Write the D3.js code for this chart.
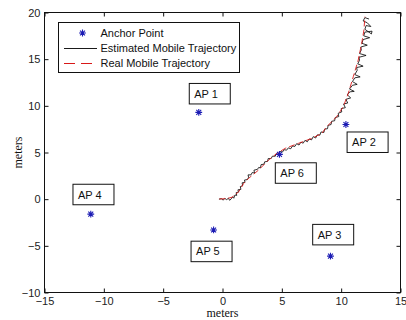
<!DOCTYPE html>
<html>
<head>
<meta charset="utf-8">
<script src="https://cdn.jsdelivr.net/npm/d3@7"></script>
<style>
  body { margin: 0; background: #fff; }
  svg { display: block; }
  .tick text { font-family: 'Liberation Sans', Arial, sans-serif; font-size: 11px; fill: #222; }
  .lbl { font-family: 'Liberation Sans', Arial, sans-serif; font-size: 11px; fill: #111; }
  .axis-label { font-family: 'Liberation Serif', 'Times New Roman', serif; font-size: 12px; fill: #111; }
</style>
</head>
<body>
<div id="chart"></div>
<script>
// anchor points
const anchorNames = ['AP 1', 'AP 2', 'AP 3', 'AP 4', 'AP 5', 'AP 6']
const anchorX = [-2.0, 10.4, 9.1, -11.1, -0.75, 4.8]
const anchorY = [9.3, 8.0, -6.1, -1.6, -3.3, 4.8]
// text box anchors (left edge, vertical middle) in data units
const labelX = [-2.8, 10.5, 7.6, -12.6, -2.65, 4.45]
const labelY = [11.3, 6.1, -3.8, 0.5, -5.6, 2.8]

// real mobile trajectory
const realX = [-0.27, 0.3, 0.8, 1.37, 1.79, 2.21, 3.05, 3.89, 4.59, 5.29, 6.42, 7.54, 8.38, 8.78, 9.62, 10.18, 10.6, 11.02, 11.44, 11.73, 11.92, 12.0]
const realY = [0.02, 0.05, 0.2, 0.8, 1.7, 2.24, 3.13, 4.2, 4.91, 5.45, 5.99, 6.52, 7.06, 7.76, 8.84, 9.91, 11.34, 13.12, 14.91, 16.7, 18.13, 19.55]

// estimated mobile trajectory
const estimated = [
  [-0.3, 0.0], [-0.1, 0.05], [0.05, -0.1], [0.2, 0.08], [0.35, -0.05], [0.5, 0.1], [0.6, -0.12],
  [0.75, 0.05], [0.85, 0.25], [0.95, 0.1], [1.05, 0.45], [1.2, 0.4], [1.15, 0.7], [1.35, 0.75],
  [1.3, 1.0], [1.55, 1.05], [1.5, 1.35], [1.7, 1.45], [1.65, 1.75], [1.9, 1.8], [1.85, 2.05],
  [2.1, 2.1], [2.2, 2.35], [2.15, 2.6], [2.4, 2.6], [2.5, 2.85], [2.7, 2.8], [2.65, 3.1],
  [2.95, 3.2], [3.05, 3.4], [3.2, 3.35], [3.25, 3.7], [3.5, 3.75], [3.55, 4.0], [3.8, 4.05],
  [3.85, 4.35], [4.1, 4.35], [4.2, 4.6], [4.45, 4.6], [4.5, 4.85], [4.7, 4.8], [4.85, 5.1],
  [5.05, 5.05], [5.2, 5.3], [5.4, 5.25], [5.55, 5.5], [5.75, 5.4], [5.9, 5.7], [6.1, 5.65],
  [6.25, 5.95], [6.45, 5.8], [6.6, 6.1], [6.8, 6.0], [6.95, 6.3], [7.15, 6.15], [7.3, 6.45],
  [7.5, 6.35], [7.65, 6.7], [7.85, 6.55], [8.0, 6.9], [8.2, 6.85], [8.3, 7.2], [8.55, 7.15],
  [8.6, 7.5], [8.85, 7.55], [8.9, 7.9], [9.15, 8.0], [9.2, 8.35], [9.45, 8.4], [9.5, 8.75],
  [9.8, 8.85], [9.75, 9.2], [10.05, 9.35], [10.0, 9.7], [10.35, 9.8], [10.2, 10.2], [10.55, 10.3],
  [10.4, 10.7], [10.8, 10.85], [10.5, 11.2], [10.75, 11.5], [11.1, 11.55], [10.7, 11.8],
  [10.95, 12.2], [11.35, 12.3], [10.95, 12.6], [11.15, 13.0], [11.6, 13.1], [11.15, 13.35],
  [11.35, 13.8], [11.3, 14.1], [11.85, 14.25], [11.4, 14.5], [11.55, 14.9], [11.5, 15.2],
  [12.1, 15.4], [11.55, 15.6], [11.7, 16.0], [11.65, 16.3], [12.2, 16.5], [11.75, 16.7],
  [11.85, 17.1], [12.4, 17.3], [11.9, 17.5], [12.0, 17.9], [12.6, 18.0], [12.55, 17.7],
  [12.0, 18.2], [12.1, 18.6], [12.5, 18.5], [12.2, 18.9], [11.85, 19.1], [12.0, 19.45], [12.35, 19.3]
]

const xTicks = [-15, -10, -5, 0, 5, 10, 15]
const yTicks = [-10, -5, 0, 5, 10, 15, 20]

const W = 406
const H = 320
const margin = { top: 12.5, right: 5.5, bottom: 27.5, left: 44.5 }
const starColor = '#1c1cb4'
const realColor = '#d81818'

const svg = d3.select('#chart').append('svg').attr('width', W).attr('height', H)

const x = d3.scaleLinear().domain([-15, 15]).range([margin.left, W - margin.right])
const y = d3.scaleLinear().domain([-10, 20]).range([H - margin.bottom, margin.top])

// axes with inward ticks on all four sides
svg.append('g')
  .attr('transform', `translate(0, ${y(-10)})`)
  .call(d3.axisBottom(x).tickValues(xTicks).tickSize(-4).tickSizeOuter(0).tickPadding(5))
svg.append('g')
  .attr('transform', `translate(${x(-15)}, 0)`)
  .call(d3.axisLeft(y).tickValues(yTicks).tickSize(-4).tickSizeOuter(0).tickPadding(4))
svg.append('g')
  .attr('transform', `translate(0, ${y(20)})`)
  .call(d3.axisTop(x).tickValues(xTicks).tickSize(-4).tickSizeOuter(0).tickFormat(''))
svg.append('g')
  .attr('transform', `translate(${x(15)}, 0)`)
  .call(d3.axisRight(y).tickValues(yTicks).tickSize(-4).tickSizeOuter(0).tickFormat(''))

svg.selectAll('.domain').remove()
svg.selectAll('.tick line').attr('stroke', '#111')

svg.append('rect')
  .attr('x', x(-15)).attr('y', y(20))
  .attr('width', x(15) - x(-15)).attr('height', y(-10) - y(20))
  .attr('fill', 'none').attr('stroke', '#111').attr('stroke-width', 1)

// axis labels
svg.append('text')
  .attr('class', 'axis-label')
  .attr('x', (x(-15) + x(15)) / 2)
  .attr('y', 317)
  .attr('text-anchor', 'middle')
  .text('meters')

svg.append('text')
  .attr('class', 'axis-label')
  .attr('transform', `translate(22, ${(y(-10) + y(20)) / 2}) rotate(-90)`)
  .attr('text-anchor', 'middle')
  .text('meters')

// trajectories
const plot = svg.append('g')

plot.append('path')
  .datum(estimated)
  .attr('fill', 'none')
  .attr('stroke', '#000')
  .attr('stroke-width', 0.8)
  .attr('d', d3.line().x((d) => x(d[0])).y((d) => y(d[1])))

plot.append('path')
  .datum(realX.map((v, i) => [v, realY[i]]))
  .attr('fill', 'none')
  .attr('stroke', realColor)
  .attr('stroke-width', 0.9)
  .attr('stroke-dasharray', '6,3')
  .attr('d', d3.line().x((d) => x(d[0])).y((d) => y(d[1])))

// asterisk marker
function star(g, cx, cy, r) {
  const d = r * 0.72
  g.append('path')
    .attr('d', `M${cx - r},${cy}H${cx + r}M${cx},${cy - r}V${cy + r}` +
      `M${cx - d},${cy - d}L${cx + d},${cy + d}M${cx - d},${cy + d}L${cx + d},${cy - d}`)
    .attr('stroke', starColor)
    .attr('stroke-width', 1.1)
    .attr('fill', 'none')
}

anchorX.forEach((v, i) => star(plot, x(v), y(anchorY[i]), 3.4))

// labelled boxes
const boxW = 41
const boxH = 20.5
anchorNames.forEach((name, i) => {
  const bx = x(labelX[i])
  const by = y(labelY[i])
  plot.append('rect')
    .attr('x', bx).attr('y', by - boxH / 2)
    .attr('width', boxW).attr('height', boxH)
    .attr('fill', '#fff').attr('stroke', '#111').attr('stroke-width', 1)
  plot.append('text')
    .attr('class', 'lbl')
    .attr('x', bx + 5)
    .attr('y', by + 4)
    .text(name)
})

// legend
const legend = svg.append('g')
legend.append('rect')
  .attr('x', 58.5).attr('y', 22.5).attr('width', 181).attr('height', 50)
  .attr('fill', '#fff').attr('stroke', '#111').attr('stroke-width', 1)

star(legend, 82.5, 33, 3.4)
legend.append('line')
  .attr('x1', 64).attr('x2', 97).attr('y1', 48.5).attr('y2', 48.5)
  .attr('stroke', '#000').attr('stroke-width', 0.9)
legend.append('line')
  .attr('x1', 64).attr('x2', 97).attr('y1', 63.5).attr('y2', 63.5)
  .attr('stroke', realColor).attr('stroke-width', 1).attr('stroke-dasharray', '11,6')

const legendText = ['Anchor Point', 'Estimated Mobile Trajectory', 'Real Mobile Trajectory']
legendText.forEach((t, i) => {
  legend.append('text')
    .attr('class', 'lbl')
    .attr('x', 100.5)
    .attr('y', 37 + i * 15)
    .text(t)
})
</script>
</body>
</html>
